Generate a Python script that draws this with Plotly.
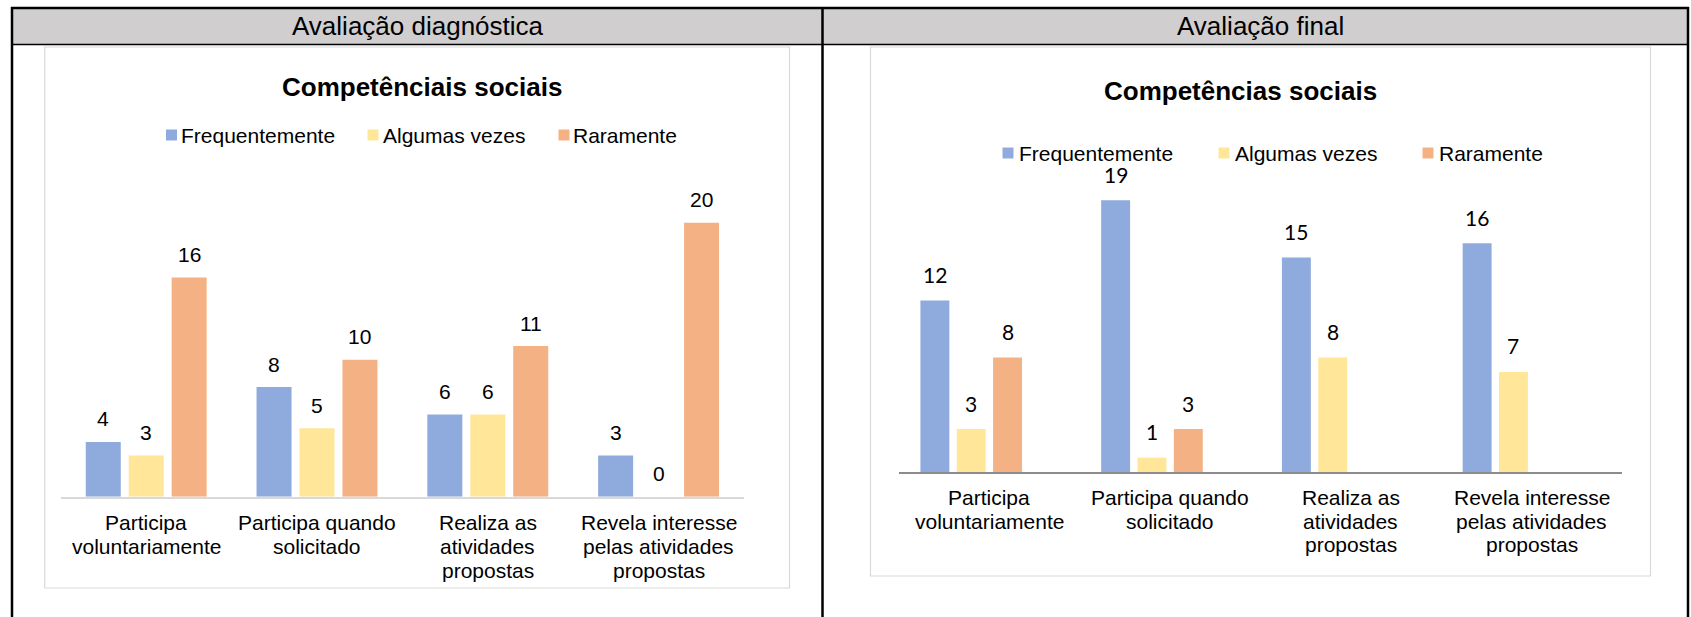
import plotly.graph_objects as go

# ---- data -----------------------------------------------------------------
categories = [
    "Participa<br>voluntariamente",
    "Participa quando<br>solicitado",
    "Realiza as<br>atividades<br>propostas",
    "Revela interesse<br>pelas atividades<br>propostas",
]
series_names = ["Frequentemente", "Algumas vezes", "Raramente"]

diag_freq = [4, 8, 6, 3]
diag_alg = [3, 5, 6, 0]
diag_rar = [16, 10, 11, 20]

final_freq = [12, 19, 15, 16]
final_alg = [3, 1, 8, 7]
final_rar = [8, 3, None, None]

header_titles = ["Avaliação diagnóstica", "Avaliação final"]
chart_titles = ["Competênciais sociais", "Competências sociais"]

# ---- styling ----------------------------------------------------------------
W, H = 1691, 617
COLORS = ["#8faadc", "#ffe699", "#f4b183"]
ARIAL = "Liberation Sans, Arial, sans-serif"
CALIBRI = "Lato, Carlito, Calibri, sans-serif"
INK = "#000000"


def px(x):
    return x / W


def py(y):
    return 1 - y / H


panels = [
    dict(  # left panel
        series=[diag_freq, diag_alg, diag_rar],
        xa="x", ya="y", x0=60.8, x1=744.0, base=496.7, unit=13.7, ymax=25,
        slot=0.2515, barw=0.205, nslots=3,
        axis_color="#d9d9d9", axis_w=1.5,
        value_font=ARIAL, value_gap=23,
        cat_gap=25.5, cat_step=24.0,
        title_x=421.5, title_y=87, header_x=417.8,
        legend_y=135, key_x=[166, 367.5, 558.5], text_x=[180.5, 382.7, 572.5],
        box=(44.7, 47, 789.5, 588),
    ),
    dict(  # right panel
        series=[final_freq, final_alg, final_rar],
        xa="x2", ya="y2", x0=899.0, x1=1622.0, base=472.0, unit=14.3, ymax=20,
        slot=0.201, barw=0.16, nslots=4,
        axis_color="#8c8c8c", axis_w=2,
        value_font=CALIBRI, value_gap=26,
        cat_gap=25.5, cat_step=23.5,
        title_x=1240, title_y=90.5, header_x=1260.5,
        legend_y=153, key_x=[1002.5, 1218.5, 1422.5], text_x=[1018.8, 1234.6, 1438.6],
        box=(870.5, 47, 1650.5, 576),
    ),
]

fig = go.Figure()
shapes = []
annotations = []

# ---- table frame ------------------------------------------------------------
shapes.append(dict(type="rect", xref="paper", yref="paper",
                   x0=px(11), x1=px(1688), y0=py(44.5), y1=py(8),
                   fillcolor="#d0cece", line=dict(width=0), layer="below"))
for (xa, ya, xb, yb, w) in [
    (11, 8, 1689, 8, 2.5),          # top rule
    (11, 44.5, 1689, 44.5, 1.5),    # header rule
    (12, 7, 12, 617, 2.5),          # left border
    (822.5, 7, 822.5, 617, 2.5),    # column divider
    (1688, 7, 1688, 617, 2.5),      # right border
]:
    shapes.append(dict(type="line", xref="paper", yref="paper",
                       x0=px(xa), y0=py(ya), x1=px(xb), y1=py(yb),
                       line=dict(color="#000000", width=w)))

for p, head, title in zip(panels, header_titles, chart_titles):
    # header text
    annotations.append(dict(text=head, x=px(p["header_x"]), y=py(25.5),
                            xref="paper", yref="paper", showarrow=False,
                            xanchor="center", yanchor="middle",
                            font=dict(family=ARIAL, size=26, color=INK)))
    # chart area border
    bx0, by0, bx1, by1 = p["box"]
    shapes.append(dict(type="rect", xref="paper", yref="paper",
                       x0=px(bx0), x1=px(bx1), y0=py(by1), y1=py(by0),
                       line=dict(color="#d9d9d9", width=1.2),
                       fillcolor="rgba(0,0,0,0)", layer="below"))
    # chart title
    annotations.append(dict(text="<b>%s</b>" % title, x=px(p["title_x"]), y=py(p["title_y"]),
                            xref="paper", yref="paper", showarrow=False,
                            xanchor="center", yanchor="middle",
                            font=dict(family=ARIAL, size=26, color=INK)))
    # legend keys and names
    for i, name in enumerate(series_names):
        k = 11
        shapes.append(dict(type="rect", xref="paper", yref="paper",
                           x0=px(p["key_x"][i]), x1=px(p["key_x"][i] + k),
                           y0=py(p["legend_y"] + k / 2), y1=py(p["legend_y"] - k / 2),
                           fillcolor=COLORS[i], line=dict(width=0)))
        annotations.append(dict(text=name, x=px(p["text_x"][i] - 2), y=py(p["legend_y"]),
                                xref="paper", yref="paper", showarrow=False,
                                xanchor="left", yanchor="middle",
                                font=dict(family=ARIAL, size=21, color=INK)))

    # bars and value labels
    idx = list(range(len(categories)))
    for i, (name, vals) in enumerate(zip(series_names, p["series"])):
        centre = (i - (p["nslots"] - 1) / 2) * p["slot"]
        fig.add_trace(go.Bar(
            x=idx, y=vals, name=name, xaxis=p["xa"], yaxis=p["ya"],
            offset=centre - p["barw"] / 2, width=p["barw"],
            marker=dict(color=COLORS[i], line=dict(width=0)),
            showlegend=False, hoverinfo="x+y"))
        for k_, v in zip(idx, vals):
            if v is None:
                continue
            annotations.append(dict(text=str(v), x=k_ + centre, y=v,
                                    xref=p["xa"], yref=p["ya"], showarrow=False,
                                    xanchor="center", yanchor="middle",
                                    yshift=p["value_gap"],
                                    font=dict(family=p["value_font"], size=21, color=INK)))

    # category labels, one line at a time
    for k_, cat in enumerate(categories):
        for j, line in enumerate(cat.split("<br>")):
            annotations.append(dict(text=line, x=k_, xref=p["xa"],
                                    y=py(p["base"] + p["cat_gap"] + j * p["cat_step"]),
                                    yref="paper", showarrow=False,
                                    xanchor="center", yanchor="middle",
                                    font=dict(family=ARIAL, size=21, color=INK)))

axis_common = dict(range=[-0.5, 3.5], showgrid=False, zeroline=False,
                   showticklabels=False, ticks="", fixedrange=True, showline=True)
layout_axes = {}
for n, p in enumerate(panels):
    sx = "" if n == 0 else str(n + 1)
    layout_axes["xaxis" + sx] = dict(
        axis_common, domain=[px(p["x0"]), px(p["x1"])],
        anchor="y" + sx, linecolor=p["axis_color"], linewidth=p["axis_w"])
    layout_axes["yaxis" + sx] = dict(
        domain=[py(p["base"]), py(p["base"] - p["ymax"] * p["unit"])],
        range=[0, p["ymax"]], anchor="x" + sx, visible=False, fixedrange=True)

fig.update_layout(
    width=W, height=H, autosize=False,
    margin=dict(l=0, r=0, t=0, b=0, pad=0),
    paper_bgcolor="#ffffff", plot_bgcolor="rgba(0,0,0,0)",
    barmode="overlay", showlegend=False,
    shapes=shapes, annotations=annotations,
    font=dict(family=ARIAL, color=INK),
    **layout_axes,
)

fig.write_html("out.html", config={"displayModeBar": False})
